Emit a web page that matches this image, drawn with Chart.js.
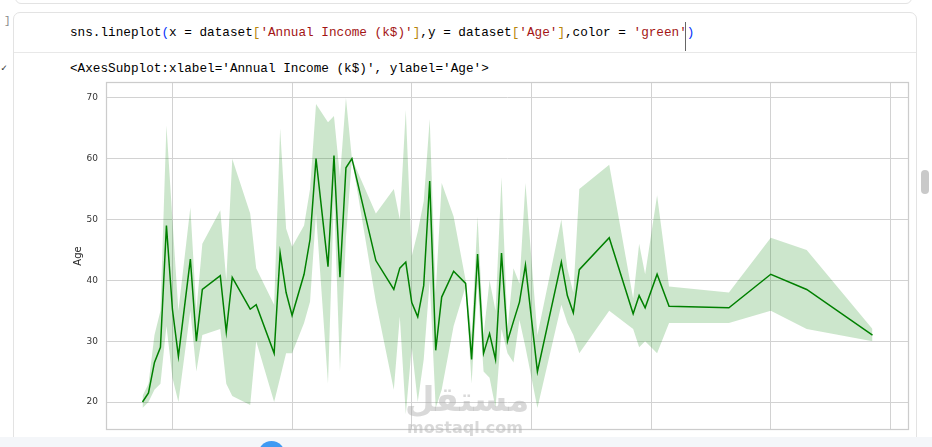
<!doctype html>
<html lang="en">
<head>
<meta charset="utf-8">
<title>sns.lineplot Age vs Annual Income</title>
<script src="https://cdn.jsdelivr.net/npm/chart.js"></script>
<style>
  body { margin:0; width:932px; height:447px; overflow:hidden; position:relative; background:#fff; }
  .mono { font-family: 'Liberation Mono', 'DejaVu Sans Mono', monospace; font-size:12.7px; white-space:pre; position:absolute; line-height:18px; color:#000; }
  .prev { position:absolute; left:15px; top:-12px; width:895px; height:14px; border:1px solid #e3e3e3; border-radius:6px; }
  .cell { position:absolute; left:13px; top:12px; width:902px; height:440px; border:1px solid #e3e3e3; border-radius:7px 7px 0 0; }
  .sep { position:absolute; left:14px; top:52px; width:902px; height:1px; background:#e8e8e8; }
  .str { color:#a31515; }
  .p1 { color:#0431fa; }
  .p2 { color:#b8860b; }
  .cursor { position:absolute; left:685px; top:22px; width:1px; height:29px; background:#666; }
  .bottom { position:absolute; left:0; top:437px; width:932px; height:10px; background:#f4f6f9; }
  .dot { position:absolute; left:258px; top:441px; width:27px; height:27px; border-radius:50%; background:#3f9af3; }
  .thumb { position:absolute; left:921px; top:170px; width:8px; height:24px; border-radius:4px; background:#c9c9c9; }
  .wm { position:absolute; color:rgba(170,170,170,0.45); font-family:'DejaVu Sans', sans-serif; font-weight:bold; text-align:center; }
  #wrap { position:absolute; left:60px; top:76px; width:855px; height:360px; }
</style>
</head>
<body>
<div class="prev"></div>
<div class="mono" style="left:4px;top:12px;color:#888;font-size:11px;">]</div>
<div class="cell"></div>
<div class="sep"></div>
<div class="mono" style="left:70px;top:24px;">sns.lineplot<span class="p1">(</span>x = dataset<span class="p2">[</span><span class="str">'Annual Income (k$)'</span><span class="p2">]</span>,y = dataset<span class="p2">[</span><span class="str">'Age'</span><span class="p2">]</span>,color = <span class="str">'green'</span><span class="p1">)</span></div>
<div class="cursor"></div>
<div class="mono" style="left:1px;top:60px;font-size:10px;color:#333;">✓</div>
<div class="mono" style="left:70px;top:60px;">&lt;AxesSubplot:xlabel='Annual Income (k$)', ylabel='Age'&gt;</div>
<div id="wrap"><canvas id="myChart"></canvas></div>
<div class="wm" style="left:405px;top:378px;width:120px;font-size:34px;line-height:42px;">مستقل</div>
<div class="wm" style="left:405px;top:418px;width:120px;font-size:16px;line-height:20px;">mostaql.com</div>
<div class="bottom"></div>
<div class="dot"></div>
<div class="thumb"></div>

<script>
// Annual Income (k$) groups, mean Age and the 95% band
const income = [15,16,17,18,19,20,21,23,24,25,28,29,30,33,34,37,38,39,40,42,
                43,44,46,47,48,49,50,54,57,58,59,60,61,62,63,64,65,67,69,70,
                71,72,73,74,75,76,77,78,79,81,85,86,87,88,93,97,98,99,101,103,
                113,120,126,137];
const ageMean = [20,21.5,26.5,29,49,35.25,27.5,43.5,30,38.5,40.75,31.5,40.5,35.25,36,28,44.5,38,34.25,41,
                 46.75,60,42.25,60.5,40.5,58.5,60,43.25,38.5,42,43,36.33,34,39.17,56.33,28.5,37.25,41.5,39.5,27,
                 44.33,28,31.25,27,44.5,30,33.25,36.42,42.5,25,43,37.5,34.67,41.75,47,34.5,37.5,35.5,41,35.75,
                 35.5,41,38.5,31];
const ageLow = [19,20,22,23,32.5,24,20,35,25,31,32,23,21,19.5,30,20,24,28,28,33,
                36.5,51,23,54,25,47,60,36.5,22,34,18,29,20,27,40,19,22,32.5,39,23,
                39.5,25,24,19,32,28,26.5,33.5,29,19,36,33,31,28,35,32,29,30,28,33,
                33,35,32,30];
const ageHigh = [21,23,31,35,65.5,50,35,52,35,46,51.5,40,60,51,42,36,65,48.5,45.5,49,
                 55,69,66,67,57,70,60,51,55,50,68,44,48,53,66.5,38,56,50.5,40,31,
                 50.5,31,40,35,57,32,42,39.5,56,31,50,42,38,55,59,37,46,41,54,39,
                 38,47,45,32];
const xTicks = [20,40,60,80,100,120,140];
const yTicks = [20,30,40,50,60,70];

const pts = ys => income.map((x, i) => ({x: x, y: ys[i]}));

const frame = {
  id: 'frame',
  afterDraw(chart) {
    const a = chart.chartArea, c = chart.ctx;
    c.save();
    c.strokeStyle = '#cccccc';
    c.lineWidth = 1.25;
    c.strokeRect(a.left + 0.5, a.top + 0.5, a.right - a.left - 1, a.bottom - a.top - 1);
    c.restore();
  }
};

const ctx = document.getElementById('myChart');
var chart = new Chart(ctx, {
  type: 'line',
  data: {
    datasets: [
      { label: 'Age', data: pts(ageMean), borderColor: '#008000', borderWidth: 1.5,
        pointRadius: 0, tension: 0, fill: false },
      { label: 'low', data: pts(ageLow), borderColor: 'transparent', borderWidth: 0,
        pointRadius: 0, tension: 0, fill: false },
      { label: 'high', data: pts(ageHigh), borderColor: 'transparent', borderWidth: 0,
        pointRadius: 0, tension: 0, fill: '-1', backgroundColor: 'rgba(0,128,0,0.2)' }
    ]
  },
  options: {
    responsive: true,
    maintainAspectRatio: false,
    animation: false,
    layout: { padding: { left: 0, right: 6, top: 6, bottom: 6 } },
    plugins: { legend: { display: false }, tooltip: { enabled: false } },
    scales: {
      x: {
        type: 'linear', min: 8.9, max: 143.1,
        afterBuildTicks: s => { s.ticks = xTicks.map(v => ({value: v})); },
        afterFit: s => { s.height = 0; s.paddingLeft = 0; s.paddingRight = 0; },
        ticks: { display: false },
        grid: { color: '#d2d2d2', lineWidth: 1, drawTicks: false },
        border: { display: false }
      },
      y: {
        min: 15.4, max: 72.6,
        afterBuildTicks: s => { s.ticks = yTicks.map(v => ({value: v})); },
        afterFit: s => { s.width = 46; s.paddingTop = 0; s.paddingBottom = 0; },
        ticks: { padding: 8, color: '#333', font: { family: 'DejaVu Sans', size: 9 } },
        grid: { color: '#d2d2d2', lineWidth: 1, drawTicks: false },
        border: { display: false },
        title: { display: true, text: 'Age', color: '#262626',
                 font: { family: 'DejaVu Sans', size: 10 }, padding: { top: 12, bottom: 0 } }
      }
    }
  },
  plugins: [frame]
});
</script>
</body>
</html>
